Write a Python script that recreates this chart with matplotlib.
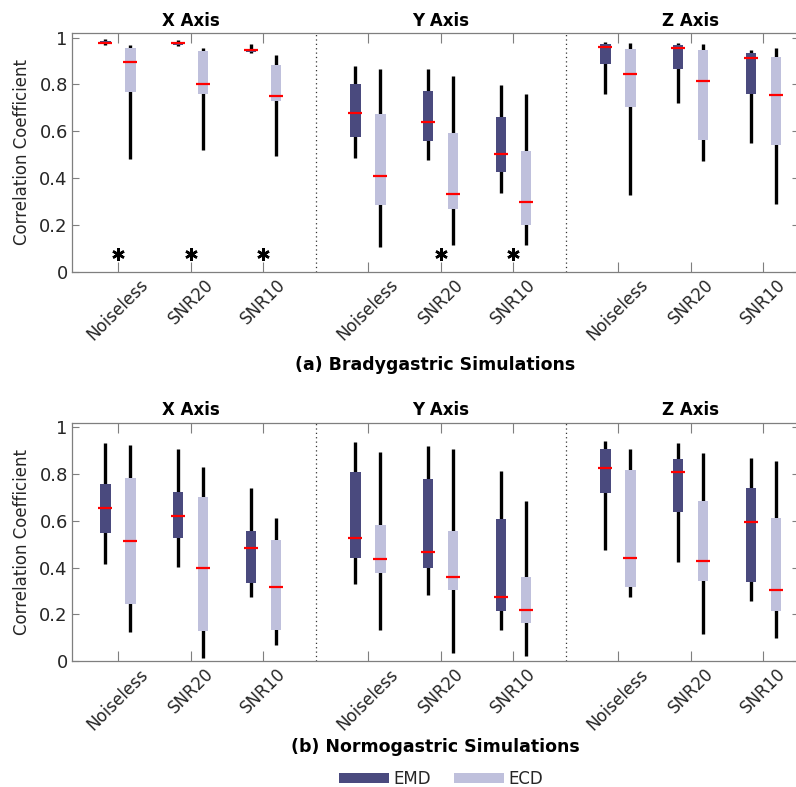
import numpy as np
import matplotlib
matplotlib.use("Agg")
import matplotlib.pyplot as plt
from matplotlib.patches import Patch
import matplotlib.transforms as mtransforms

# ---------------- data ----------------
axes_names = ["X Axis", "Y Axis", "Z Axis"]
conditions = ["Noiseless", "SNR20", "SNR10"]
methods = ["EMD", "ECD"]
panel_titles = ["(a) Bradygastric Simulations", "(b) Normogastric Simulations"]

# order: X-Noiseless, X-SNR20, X-SNR10, Y-..., Z-...
brady_emd_whishi = [0.993, 0.990, 0.974, 0.878, 0.867, 0.796, 0.981, 0.979, 0.947]
brady_emd_q3     = [0.985, 0.982, 0.953, 0.800, 0.773, 0.659, 0.971, 0.968, 0.936]
brady_emd_med    = [0.979, 0.976, 0.947, 0.677, 0.641, 0.501, 0.961, 0.957, 0.914]
brady_emd_q1     = [0.973, 0.970, 0.940, 0.576, 0.560, 0.424, 0.886, 0.868, 0.760]
brady_emd_whislo = [0.967, 0.965, 0.936, 0.486, 0.479, 0.336, 0.760, 0.721, 0.550]

brady_ecd_whishi = [0.968, 0.955, 0.924, 0.867, 0.836, 0.758, 0.976, 0.971, 0.954]
brady_ecd_q3     = [0.954, 0.944, 0.883, 0.674, 0.593, 0.517, 0.950, 0.946, 0.919]
brady_ecd_med    = [0.898, 0.800, 0.750, 0.409, 0.333, 0.296, 0.843, 0.814, 0.756]
brady_ecd_q1     = [0.769, 0.760, 0.728, 0.283, 0.269, 0.199, 0.704, 0.564, 0.543]
brady_ecd_whislo = [0.483, 0.521, 0.493, 0.107, 0.114, 0.114, 0.329, 0.471, 0.290]

normo_emd_whishi = [0.932, 0.908, 0.741, 0.936, 0.922, 0.815, 0.940, 0.932, 0.869]
normo_emd_q3     = [0.758, 0.724, 0.555, 0.808, 0.780, 0.609, 0.908, 0.866, 0.740]
normo_emd_med    = [0.657, 0.619, 0.482, 0.528, 0.468, 0.272, 0.824, 0.807, 0.593]
normo_emd_q1     = [0.546, 0.525, 0.332, 0.441, 0.396, 0.216, 0.717, 0.637, 0.339]
normo_emd_whislo = [0.417, 0.403, 0.272, 0.329, 0.282, 0.132, 0.477, 0.425, 0.255]

normo_ecd_whishi = [0.926, 0.829, 0.613, 0.895, 0.908, 0.684, 0.908, 0.892, 0.857]
normo_ecd_q3     = [0.785, 0.704, 0.516, 0.583, 0.558, 0.360, 0.818, 0.686, 0.612]
normo_ecd_med    = [0.514, 0.400, 0.317, 0.437, 0.360, 0.218, 0.441, 0.430, 0.303]
normo_ecd_q1     = [0.246, 0.129, 0.132, 0.377, 0.303, 0.161, 0.316, 0.341, 0.216]
normo_ecd_whislo = [0.122, 0.014, 0.068, 0.132, 0.033, 0.021, 0.275, 0.114, 0.097]

# significance markers (asterisks)
brady_sig = [1, 1, 1, 0, 1, 1, 0, 0, 0]
normo_sig = [0, 0, 0, 0, 0, 0, 0, 0, 0]
sig_level = 0.076

yticks = [0, 0.2, 0.4, 0.6, 0.8, 1]
ytick_labels = ["0", "0.2", "0.4", "0.6", "0.8", "1"]

# ---------------- style ----------------
emd_color = "#4a4a7e"
ecd_color = "#bfc0dc"
med_color = "#ff0000"
spine_color = "#7f7f7f"
text_color = "#262626"

plt.rcParams["font.family"] = ["DejaVu Sans"]

W, H = 796, 787
fig = plt.figure(figsize=(W / 100, H / 100), dpi=100)

group_gap = 3.434
offset = 0.172
box_w = 0.144
med_half = 0.095
xlim = (-1.630, 8.356)

positions = []
for g in range(3):
    for c in range(3):
        positions.append(g * group_gap + (c - 1))
positions = np.array(positions)

panels = [
    dict(emd=(brady_emd_whislo, brady_emd_q1, brady_emd_med, brady_emd_q3, brady_emd_whishi),
         ecd=(brady_ecd_whislo, brady_ecd_q1, brady_ecd_med, brady_ecd_q3, brady_ecd_whishi),
         sig=brady_sig, top=33.0, bottom=271.7, label_y=365),
    dict(emd=(normo_emd_whislo, normo_emd_q1, normo_emd_med, normo_emd_q3, normo_emd_whishi),
         ecd=(normo_ecd_whislo, normo_ecd_q1, normo_ecd_med, normo_ecd_q3, normo_ecd_whishi),
         sig=normo_sig, top=422.7, bottom=661.0, label_y=747),
]

left_px, right_px = 72, 799

for pi, p in enumerate(panels):
    ax = fig.add_axes([left_px / W, 1 - p["bottom"] / H,
                       (right_px - left_px) / W, (p["bottom"] - p["top"]) / H])
    ax.set_xlim(*xlim)
    ax.set_ylim(0, 1.02)
    for key, sgn, col in (("emd", -1, emd_color), ("ecd", 1, ecd_color)):
        lo, q1, med, q3, hi = (np.array(a) for a in p[key])
        xs = positions + sgn * offset
        ax.vlines(xs, lo, hi, colors="black", linewidth=2.4, zorder=2,
                  capstyle="butt")
        ax.bar(xs, q3 - q1, bottom=q1, width=box_w, color=col,
               edgecolor="none", zorder=3)
        ax.hlines(med, xs - med_half, xs + med_half, colors=med_color,
                  linewidth=1.6, zorder=4)
    sig = np.array(p["sig"]) > 0
    ax.plot(positions[sig], np.full(sig.sum(), sig_level), linestyle="none",
            marker=(6, 2, 0), markersize=9, markeredgewidth=1.8,
            color="black", zorder=5)
    # group separators
    for g in (1, 2):
        ax.axvline(g * group_gap - group_gap / 2, color="#333333",
                   linestyle=(0, (1, 2.5)), linewidth=0.9, zorder=1)
    # group titles
    trans = mtransforms.blended_transform_factory(ax.transData, ax.transAxes)
    for g, name in enumerate(axes_names):
        ax.text(g * group_gap, 1 + 12.3 / (p["bottom"] - p["top"]), name,
                transform=trans, ha="center", va="center",
                fontsize=12, fontweight="bold", color="black")
    ax.set_xticks(positions)
    ax.set_xticklabels(conditions * 3, rotation=45, ha="center",
                       fontsize=12, color=text_color)
    ax.set_yticks(yticks)
    ax.set_yticklabels(ytick_labels, fontsize=13, color=text_color)
    ax.tick_params(axis="x", direction="in", length=7, width=0.8,
                   color=spine_color, top=True, pad=3)
    ax.tick_params(axis="y", direction="in", length=5, width=0.8,
                   color=spine_color, right=True, pad=3)
    for s in ax.spines.values():
        s.set_color(spine_color)
        s.set_linewidth(0.9)
    ax.set_ylabel("Correlation Coefficient", fontsize=12, color=text_color,
                  labelpad=6)
    fig.text((left_px + 363) / W, 1 - p["label_y"] / H, panel_titles[pi],
             ha="center", va="center", fontsize=12.5, fontweight="bold",
             color="black")

handles = [Patch(facecolor=emd_color, edgecolor="none"),
           Patch(facecolor=ecd_color, edgecolor="none")]
fig.legend(handles, methods, loc="center", bbox_to_anchor=(441 / W, 1 - 779 / H),
           ncol=2, frameon=False, fontsize=12, handlelength=3.0,
           handleheight=0.55, handletextpad=0.25, columnspacing=1.4,
           labelcolor=text_color)

fig.savefig("out.png", dpi=100)
